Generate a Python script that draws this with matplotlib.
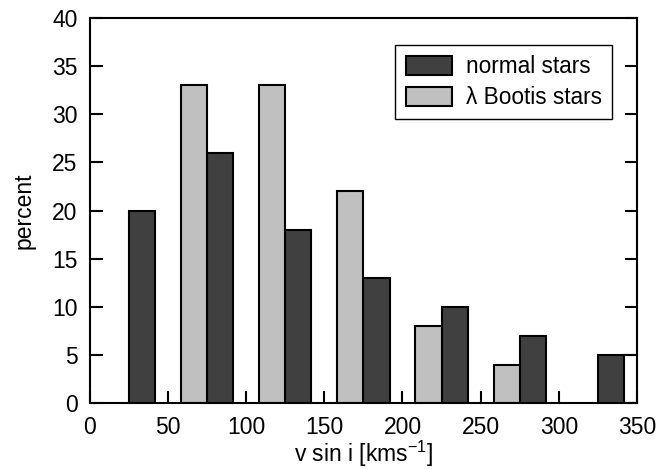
import numpy as np
import matplotlib.pyplot as plt

plt.rcParams['font.family'] = ['Liberation Sans', 'DejaVu Sans']
plt.rcParams['mathtext.default'] = 'regular'

# dark bars (normal stars): left edges and percentages
normal_left = [25, 75, 125, 175, 225, 275, 325]
normal_pct = [20, 26, 18, 13, 10, 7, 5]
# light bars (lambda Bootis stars)
boo_left = [58.3, 108.3, 158.3, 208.3, 258.3]
boo_pct = [33, 33, 22, 8, 4]
# stray open bar clipped at the right edge
extra_left = [341.7]
extra_pct = [5]
bar_w = 16.7

fig = plt.figure(figsize=(6.69, 4.69), dpi=100)
ax = fig.add_axes([0.1345, 0.1407, 0.8175, 0.8209])

ax.bar(normal_left, normal_pct, width=bar_w, align='edge', color='#404040',
       edgecolor='black', linewidth=1.5, label='normal stars')
ax.bar(boo_left, boo_pct, width=bar_w, align='edge', color='#c0c0c0',
       edgecolor='black', linewidth=1.5, label='λ Bootis stars')
ax.bar(extra_left, extra_pct, width=bar_w, align='edge', color='white',
       edgecolor='black', linewidth=1.5)

ax.set_xlim(0, 350)
ax.set_ylim(0, 40)
ax.set_xticks(np.arange(0, 351, 50))
ax.set_yticks(np.arange(0, 41, 5))
ax.tick_params(direction='in', length=9, width=1.5, labelsize=16.5,
               right=True, top=False, pad=9)
for s in ax.spines.values():
    s.set_linewidth(1.5)

ax.set_xlabel('v sin i [kms$^{-1}$]', fontsize=16.5, labelpad=0)
ax.set_ylabel('percent', fontsize=16.5, labelpad=12)

leg = ax.legend(loc='upper right', fontsize=16.3, fancybox=False,
                edgecolor='black', framealpha=1, handlelength=2.05,
                handleheight=0.92, borderpad=0.45, labelspacing=0.35,
                handletextpad=0.6, borderaxespad=0,
                bbox_to_anchor=(0.954, 0.930))
leg.get_frame().set_linewidth(1.0)

fig.savefig('out.png', dpi=100)
